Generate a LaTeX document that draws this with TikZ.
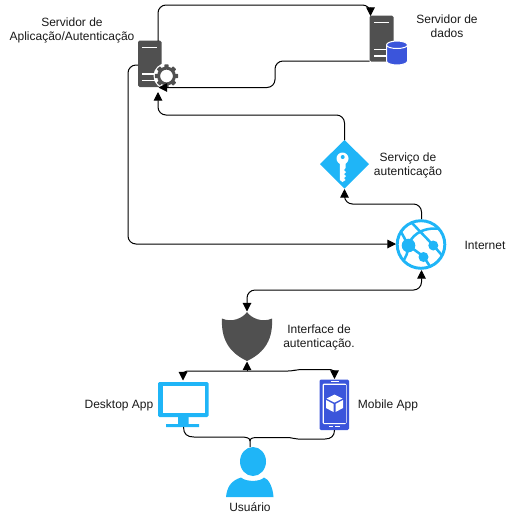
\documentclass[tikz,border=0pt]{standalone}
\usepackage{fontspec}
\setmainfont{Liberation Sans}
\usetikzlibrary{arrows.meta}
\definecolor{azure}{HTML}{1FB5F7}
\definecolor{slateg}{HTML}{505050}
\definecolor{royal}{HTML}{3B55DB}
\tikzset{
  conn/.style={line width=0.75pt,black,rounded corners=6pt},
  softconn/.style={line width=0.75pt,black},
  tip/.style={-{Triangle[length=6.4pt,width=6.4pt]}},
  twotips/.style={{Triangle[length=6.4pt,width=6.4pt]}-{Triangle[length=6.4pt,width=6.4pt]}},
  lbl/.style={font=\fontsize{9}{10.5}\selectfont,align=center,text=black!90,inner sep=0pt},
}
\begin{document}
\begin{tikzpicture}[x=0.75pt,y=-0.75pt]
\useasboundingbox (0,0) rectangle (520,515);
% named positions
\coordinate (appTop) at (158,41);
\coordinate (appLeft) at (138,65);
\coordinate (appGear) at (158.5,87.5);
\coordinate (appBottom) at (158,92);
\coordinate (dataTop) at (370.5,16);
\coordinate (dataLeft) at (369.5,61);
\coordinate (keyTop) at (344.5,140);
\coordinate (keyBottom) at (344.5,189);
\coordinate (netTop) at (421.5,219);
\coordinate (netLeft) at (396,244);
\coordinate (netBottom) at (421.5,270);
\coordinate (shieldTop) at (247,311.5);
\coordinate (shieldBottom) at (247,361.5);
\coordinate (deskTop) at (183,380.5);
\coordinate (deskBottom) at (183.5,427);
\coordinate (mobTop) at (334.5,379);
\coordinate (mobBottom) at (334.5,430);
\coordinate (userTop) at (250,447);
% application server
\fill[slateg,rounded corners=1.2pt] (138,40.5) rectangle (161.5,87);
\draw[white,line width=1pt] (142,47.5) -- (156.5,47.5) (142,74) -- (156,74) (142,80.5) -- (156,80.5);
\fill[white] (166.5,76) circle (13);
\begin{scope}[shift={(166.5,76)}]
\foreach \a in {0,45,...,315}{\fill[slateg,rotate=\a,rounded corners=0.5pt] (-2.2,-11.6) rectangle (2.2,-7);}
\fill[slateg,even odd rule] (0,0) circle (9.4) (0,0) circle (6.4);
\end{scope}
% data server
\fill[slateg,rounded corners=1.2pt] (369.5,15.5) rectangle (393.5,61.5);
\draw[white,line width=1pt] (374,22.5) -- (388.5,22.5) (374,49.5) -- (388.5,49.5) (374,56) -- (388.5,56);
\fill[royal,draw=white,line width=0.75pt] (386.5,45) -- (386.5,61) arc[start angle=180,end angle=0,x radius=10.5,y radius=4] -- (407.5,45) arc[start angle=0,end angle=-180,x radius=10.5,y radius=4] -- cycle;
\draw[white,line width=0.75pt] (386.5,45) arc[start angle=180,end angle=0,x radius=10.5,y radius=3.5];
% key diamond
\fill[azure] (344.5,140) -- (369,164) -- (344.5,188.5) -- (320,164) -- cycle;
\fill[white] (342.5,158.5) circle (6);
\fill[white] (339.8,162) -- (339.8,180) -- (342.5,182) -- (345.5,180) -- (344,178) -- (346,176) -- (344,174) -- (346,172) -- (344,170) -- (345.5,168) -- (345.5,162) -- cycle;
\fill[azure] (342.7,157) circle (2);
% globe
\draw[azure,line width=2.2pt] (421,244.5) circle (23.8);
\begin{scope}
\clip (421,244.5) circle (23.8);
\draw[azure,line width=1.9pt] (411,222) -- (433.5,245.5) -- (446,260);
\draw[azure,line width=1.9pt] (408.5,245.5) .. controls (410,238) and (420,226) .. (441,229);
\draw[azure,line width=1.9pt] (408.5,245.5) -- (400,230);
\draw[azure,line width=1.9pt] (408.5,245.5) -- (423.5,256.5) -- (433,271);
\draw[azure,line width=1.9pt] (408.5,245.5) .. controls (408,252) and (406,258) .. (402,262);
\end{scope}
\fill[azure] (408.5,245.5) circle (6.8) (433.3,245.5) circle (5) (423.5,257) circle (5);
% shield
\fill[slateg] (247,312) .. controls (251,318) and (262,323) .. (272,318.5)
  .. controls (273,338) and (266,352) .. (247,361) .. controls (228,352) and (221,338) .. (222,318.5)
  .. controls (232,323) and (243,318) .. (247,312) -- cycle;
% monitor
\fill[azure,rounded corners=1pt] (158,382) rectangle (208.5,417);
\fill[white] (162.5,386) rectangle (204.5,413);
\fill[azure] (178,417) rectangle (188.5,424) (166,424) rectangle (199,427);
% mobile
\fill[royal,rounded corners=1pt] (319.5,379.5) rectangle (349,430);
\fill[white,rounded corners=1pt] (322.5,383.5) rectangle (346.5,424);
\fill[royal] (323.5,384.5) rectangle (345.5,423);
\draw[white,line width=0.6pt] (330.5,381.5) -- (338.5,381.5) (329,426.5) -- (333,426.5) (335,426.5) -- (340,426.5);
\fill[white] (334.5,394.5) -- (342.5,398.5) -- (334.5,402.5) -- (326.5,398.5) -- cycle;
\fill[white] (326,400) -- (333.5,404) -- (333.5,412) -- (326,408) -- cycle;
\fill[white] (343,400) -- (335.5,404) -- (335.5,412) -- (343,408) -- cycle;
% user
\fill[azure] (253,461.5) ellipse (13 and 14.5);
\fill[azure] (226,497) .. controls (227,488) and (230,481) .. (241,477.5) .. controls (246,482) and (260,482) .. (264,477.5) .. controls (269,479) and (273,488) .. (273.5,497) -- cycle;
% connectors
\draw[conn,tip] (appTop) -- (158,5) -- (370.5,5) -- (dataTop);
\draw[conn,tip] (dataLeft) -- (275,61) -- (275,87.5) -- (appGear);
\draw[conn,tip] (keyTop) -- (344.5,115) -- (158,115) -- (appBottom);
\draw[conn,tip] (netTop) -- (421.5,204) -- (344.5,204) -- (keyBottom);
\draw[conn,tip] (appLeft) -- (128,65) -- (128,244) -- (netLeft);
\draw[conn,twotips] (shieldTop) -- (247,290) -- (421.5,290) -- (netBottom);
\draw[conn,tip] (247,371) -- (shieldBottom);
\draw[conn,tip,rounded corners=3pt] (247,371) -- (183,371) -- (deskTop);
\draw[conn,tip,rounded corners=3pt] (247,371) -- (292,371) -- (298,369.5) -- (334.5,369.5) -- (mobTop);
\draw[softconn] (deskBottom) .. controls (183.5,434) and (187,437) .. (194,437) -- (240,437) .. controls (247,437) and (250,438) .. (250,441) -- (userTop);
\draw[softconn] (mobBottom) .. controls (334.5,436) and (331,439) .. (325,439) -- (298,439) .. controls (294,439) and (292,437.5) .. (287,437.5) -- (258,437.5) .. controls (253,437.5) and (250,438) .. (250,441);
% labels
\node[lbl] (tApp) at (72,30.5) {Servidor de\\Aplicação/Autenticação};
\node[lbl] (tData) at (447,25.8) {Servidor de\\dados};
\node[lbl] (tKey) at (408,165) {Serviço de\\autenticação};
\node[lbl] (tNet) at (485,245) {Internet};
\node[lbl] (tShield) at (319,337.5) {Interface de\\autenticação.};
\node[lbl] (tDesk) at (119,405.5) {Desktop App};
\node[lbl] (tMob) at (388,405.5) {Mobile App};
\node[lbl] (tUser) at (250,507.5) {Usuário};
\end{tikzpicture}
\end{document}
